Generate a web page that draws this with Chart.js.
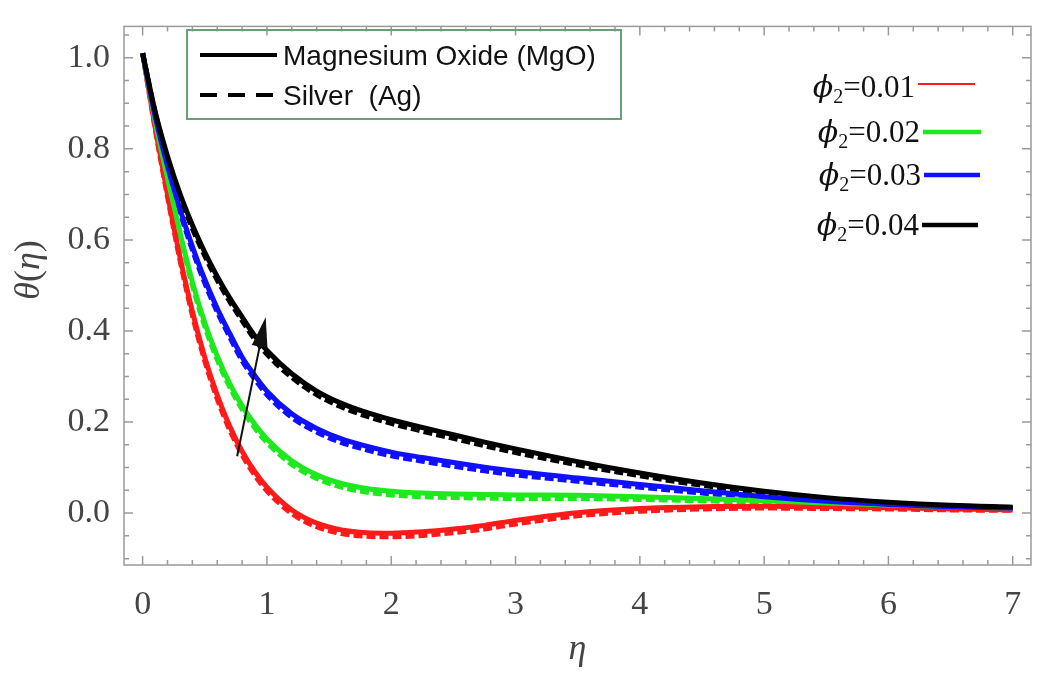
<!DOCTYPE html>
<html>
<head>
<meta charset="utf-8">
<script src="https://cdn.jsdelivr.net/npm/chart.js@4.4.1/dist/chart.umd.min.js"></script>
<style>
  body { margin: 0; background: #fff; }
  canvas { display: block; }
</style>
</head>
<body>
<canvas id="thetaChart" width="1040" height="681"></canvas>
<script>
const eta = [0, 0.1, 0.2, 0.3, 0.4, 0.5, 0.6, 0.7, 0.8, 0.9, 1.0, 1.2, 1.4, 1.6, 1.8, 2.0, 2.25, 2.5, 2.75, 3.0, 3.5, 4.0, 4.5, 5.0, 5.5, 6.0, 6.5, 7.0];

// Magnesium Oxide (solid)
const mgoRed = [1.01, 0.848, 0.700, 0.563, 0.443, 0.342, 0.259, 0.191, 0.136, 0.092, 0.057, 0.007, -0.022, -0.037, -0.043, -0.044, -0.041, -0.035, -0.027, -0.016, 0.001, 0.010, 0.014, 0.015, 0.014, 0.012, 0.009, 0.007];
const mgoGreen = [1.01, 0.862, 0.735, 0.617, 0.508, 0.418, 0.345, 0.285, 0.236, 0.196, 0.163, 0.115, 0.084, 0.065, 0.054, 0.048, 0.044, 0.042, 0.041, 0.040, 0.039, 0.036, 0.032, 0.027, 0.022, 0.018, 0.014, 0.011];
const mgoBlue = [1.01, 0.872, 0.762, 0.668, 0.586, 0.513, 0.450, 0.395, 0.343, 0.303, 0.268, 0.218, 0.186, 0.163, 0.147, 0.134, 0.122, 0.111, 0.101, 0.092, 0.077, 0.063, 0.049, 0.036, 0.026, 0.019, 0.014, 0.011];
const mgoBlack = [1.01, 0.883, 0.784, 0.702, 0.633, 0.573, 0.520, 0.473, 0.431, 0.390, 0.357, 0.306, 0.268, 0.241, 0.221, 0.205, 0.188, 0.172, 0.156, 0.141, 0.113, 0.088, 0.066, 0.048, 0.034, 0.024, 0.017, 0.013];

// Silver (dashed)
const agRed = [1.01, 0.845, 0.695, 0.556, 0.435, 0.334, 0.251, 0.183, 0.128, 0.084, 0.049, -0.001, -0.030, -0.045, -0.051, -0.052, -0.049, -0.043, -0.035, -0.024, -0.006, 0.004, 0.009, 0.011, 0.010, 0.009, 0.007, 0.006];
const agGreen = [1.01, 0.859, 0.730, 0.610, 0.500, 0.410, 0.337, 0.277, 0.228, 0.188, 0.155, 0.107, 0.076, 0.057, 0.046, 0.040, 0.036, 0.034, 0.033, 0.032, 0.032, 0.030, 0.027, 0.023, 0.018, 0.015, 0.012, 0.010];
const agBlue = [1.01, 0.869, 0.757, 0.661, 0.578, 0.505, 0.442, 0.387, 0.335, 0.295, 0.260, 0.210, 0.178, 0.155, 0.139, 0.126, 0.114, 0.103, 0.093, 0.084, 0.070, 0.057, 0.044, 0.032, 0.022, 0.016, 0.012, 0.010];
const agBlack = [1.01, 0.880, 0.779, 0.695, 0.625, 0.565, 0.512, 0.465, 0.423, 0.382, 0.349, 0.298, 0.260, 0.233, 0.213, 0.197, 0.180, 0.164, 0.148, 0.133, 0.106, 0.082, 0.061, 0.044, 0.030, 0.021, 0.015, 0.012];

const phiLabels = ['0.01', '0.02', '0.03', '0.04'];
const seriesColors = ['#ff1a1a', '#1ee81e', '#1010ff', '#000000'];
const xTicks = [0, 1, 2, 3, 4, 5, 6, 7];
const yTicks = [0.0, 0.2, 0.4, 0.6, 0.8, 1.0];

// arrow showing increase of phi2 (data coords)
const arrowFrom = [0.76, 0.125];
const arrowTo = [0.99, 0.43];

const toPoints = arr => eta.map((e, i) => ({ x: e, y: arr[i] }));

const solidSets = [mgoBlack, mgoBlue, mgoGreen, mgoRed];
const dashedSets = [agBlack, agBlue, agGreen, agRed];
const colorOrder = [3, 2, 1, 0];

const datasets = [];
solidSets.forEach((arr, k) => {
    datasets.push({
        label: 'MgO phi2=' + phiLabels[colorOrder[k]],
        data: toPoints(arr),
        borderColor: seriesColors[colorOrder[k]],
        borderWidth: 5,
        cubicInterpolationMode: 'monotone'
    });
});
dashedSets.forEach((arr, k) => {
    datasets.push({
        label: 'Ag phi2=' + phiLabels[colorOrder[k]],
        data: toPoints(arr),
        borderColor: seriesColors[colorOrder[k]],
        borderWidth: 5,
        borderDash: [9, 4],
        cubicInterpolationMode: 'monotone'
    });
});

const frameColor = '#9a9a9a';
const textColor = '#444';

//frame with inward ticks, legends, arrow and y title
const decorPlugin = {
    id: 'decor',
    afterDatasetsDraw(chart) {
        const c = chart.ctx;
        const xs = chart.scales.x, ys = chart.scales.y;
        // arrow
        const x0 = xs.getPixelForValue(arrowFrom[0]), y0 = ys.getPixelForValue(arrowFrom[1]);
        const x1 = xs.getPixelForValue(arrowTo[0]), y1 = ys.getPixelForValue(arrowTo[1]);
        const ang = Math.atan2(y1 - y0, x1 - x0);
        c.save();
        c.strokeStyle = '#111';
        c.fillStyle = '#111';
        c.lineWidth = 2;
        c.beginPath();
        c.moveTo(x0, y0);
        c.lineTo(x1 - 20 * Math.cos(ang), y1 - 20 * Math.sin(ang));
        c.stroke();
        c.beginPath();
        c.moveTo(x1, y1);
        c.lineTo(x1 - 30 * Math.cos(ang) + 8 * Math.sin(ang), y1 - 30 * Math.sin(ang) - 8 * Math.cos(ang));
        c.lineTo(x1 - 30 * Math.cos(ang) - 8 * Math.sin(ang), y1 - 30 * Math.sin(ang) + 8 * Math.cos(ang));
        c.closePath();
        c.fill();
        c.restore();
    },
    afterDraw(chart) {
        const c = chart.ctx;
        const a = chart.chartArea;
        const xs = chart.scales.x, ys = chart.scales.y;
        c.save();
        c.strokeStyle = frameColor;
        c.lineWidth = 1.5;
        c.strokeRect(a.left, a.top, a.right - a.left, a.bottom - a.top);
        c.beginPath();
        for (let i = 0; i <= 35; i++) {
            const v = i * 0.2;
            const len = i % 5 === 0 ? 9 : 5;
            const px = xs.getPixelForValue(v);
            c.moveTo(px, a.bottom); c.lineTo(px, a.bottom - len);
            c.moveTo(px, a.top); c.lineTo(px, a.top + len);
        }
        for (let i = -2; i <= 21; i++) {
            const v = i * 0.05;
            const len = i % 4 === 0 ? 9 : 5;
            const py = ys.getPixelForValue(v);
            c.moveTo(a.left, py); c.lineTo(a.left + len, py);
            c.moveTo(a.right, py); c.lineTo(a.right - len, py);
        }
        c.stroke();

        // y axis title θ(η)
        c.translate(30, 270);
        c.rotate(-Math.PI / 2);
        c.fillStyle = textColor;
        c.textBaseline = 'middle';
        const parts = [['θ', 'italic'], ['(', 'normal'], ['η', 'italic'], [')', 'normal']];
        let total = 0;
        parts.forEach(p => { c.font = p[1] + ' 36px "Liberation Serif"'; total += c.measureText(p[0]).width; });
        let tx = -total / 2;
        parts.forEach(p => {
            c.font = p[1] + ' 36px "Liberation Serif"';
            c.fillText(p[0], tx, 0);
            tx += c.measureText(p[0]).width;
        });
        c.restore();

        // material legend (box)
        c.save();
        c.strokeStyle = '#6a9e74';
        c.lineWidth = 2;
        c.strokeRect(187, 30, 434, 89);
        c.strokeStyle = '#000';
        c.lineWidth = 4;
        c.beginPath(); c.moveTo(200, 55); c.lineTo(277, 55); c.stroke();
        c.setLineDash([17, 11]);
        c.beginPath(); c.moveTo(200, 95); c.lineTo(277, 95); c.stroke();
        c.setLineDash([]);
        c.fillStyle = '#111';
        c.font = '28px "Liberation Sans"';
        c.textBaseline = 'middle';
        c.fillText('Magnesium Oxide (MgO)', 283, 57);
        c.fillText('Silver  (Ag)', 283, 97);
        c.restore();

        // phi legend
        const rowY = [84, 132, 175, 225];
        const lineX = [[918, 975], [923, 981], [924, 980], [922, 978]];
        const lineW = [2, 4.5, 4.5, 4.5];
        c.save();
        c.textBaseline = 'alphabetic';
        phiLabels.forEach((lab, i) => {
            c.strokeStyle = seriesColors[i];
            c.lineWidth = lineW[i];
            c.beginPath(); c.moveTo(lineX[i][0], rowY[i]); c.lineTo(lineX[i][1], rowY[i]); c.stroke();
            const base = rowY[i] + (i === 0 ? 13 : 10);
            c.fillStyle = '#111';
            c.font = 'italic 30px "DejaVu Serif"';
            const wPhi = c.measureText('ϕ').width;
            c.font = '20px "Liberation Serif"';
            const wSub = c.measureText('2').width;
            c.font = '31px "Liberation Serif"';
            const wRest = c.measureText('=' + lab).width;
            let x = lineX[i][0] - 3 - (wPhi + wSub + wRest);
            c.font = 'italic 30px "DejaVu Serif"';
            c.fillText('ϕ', x, base); x += wPhi;
            c.font = '20px "Liberation Serif"';
            c.fillText('2', x, base + 6); x += wSub;
            c.font = '31px "Liberation Serif"';
            c.fillText('=' + lab, x, base);
        });
        c.restore();
    }
};

const ctx = document.getElementById('thetaChart').getContext('2d');
new Chart(ctx, {
    type: 'line',
    data: { datasets: datasets },
    options: {
        responsive: false,
        animation: false,
        layout: { padding: { top: 6, right: 9 } },
        elements: { point: { radius: 0 }, line: { fill: false } },
        plugins: { legend: { display: false }, tooltip: { enabled: false } },
        scales: {
            x: {
                type: 'linear',
                min: -0.15,
                max: 7.147,
                grid: { display: false },
                border: { display: false },
                afterBuildTicks: s => { s.ticks = xTicks.map(v => ({ value: v })); },
                ticks: {
                    color: textColor,
                    font: { family: '"Liberation Serif"', size: 34 },
                    padding: 12,
                    maxRotation: 0,
                    callback: v => String(v)
                },
                title: {
                    display: true,
                    text: 'η',
                    color: textColor,
                    font: { family: '"Liberation Serif"', size: 36, style: 'italic' },
                    padding: { top: 0, bottom: 10 }
                },
                afterFit: s => { s.height = 116; }
            },
            y: {
                min: -0.114,
                max: 1.069,
                grid: { display: false },
                border: { display: false },
                afterBuildTicks: s => { s.ticks = yTicks.map(v => ({ value: v })); },
                ticks: {
                    color: textColor,
                    font: { family: '"Liberation Serif"', size: 34 },
                    padding: 6,
                    callback: v => v.toFixed(1)
                },
                afterFit: s => { s.width = 124; }
            }
        }
    },
    plugins: [decorPlugin]
});
</script>
</body>
</html>
